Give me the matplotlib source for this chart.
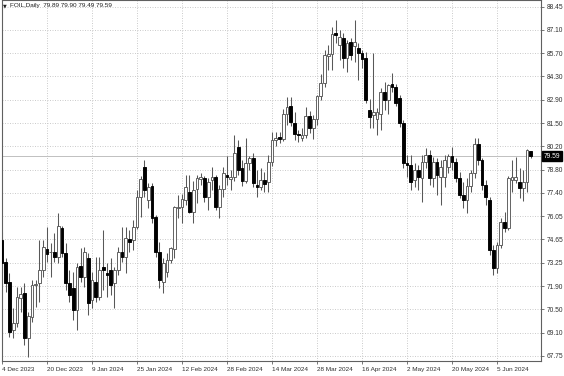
import numpy as np
import matplotlib.pyplot as plt

# daily FOIL candles, 4 Dec 2023 .. mid Jun 2024
opens = [74.62, 73.32, 72.13, 69.29, 69.71, 71.19, 71.48, 68.82, 70.06, 71.96,
         72.08, 72.85, 74.09, 73.88, 73.91, 73.62, 75.33, 73.85, 72.08, 71.78,
         70.48, 73.08, 72.43, 73.56, 71.07, 72.13, 71.25, 73.02, 72.67, 72.85,
         72.08, 72.85, 73.91, 73.62, 74.68, 74.62, 75.39, 77.17, 78.95, 76.99,
         77.82, 75.98, 73.91, 72.13, 72.73, 73.44, 74.09, 76.52, 76.58, 76.99,
         77.47, 76.28, 77.64, 78.24, 78.30, 77.17, 78.18, 78.36, 76.58, 77.64,
         78.47, 78.24, 78.36, 80.13, 78.89, 78.12, 79.18, 79.48, 77.88, 77.76,
         78.18, 78.06, 79.24, 80.55, 80.72, 80.61, 82.09, 82.56, 81.55, 80.90,
         80.66, 80.84, 81.97, 81.26, 81.79, 83.15, 83.92, 85.52, 85.64, 86.89,
         86.17, 86.59, 85.40, 86.35, 86.11, 85.99, 85.70, 85.40, 82.32, 82.03,
         81.79, 82.09, 83.39, 82.92, 83.86, 83.69, 83.03, 81.55, 79.18, 79.07,
         78.18, 78.77, 78.30, 79.24, 79.66, 78.30, 79.24, 78.36, 78.36, 78.95,
         79.60, 79.24, 78.30, 77.29, 76.99, 77.82, 78.59, 80.31, 79.36, 77.88,
         76.99, 74.03, 72.96, 74.33, 75.69, 75.33, 78.18, 78.18, 78.06, 77.70,
         78.06, 79.89]
highs = [75.10, 73.56, 72.67, 70.60, 71.84, 71.84, 72.08, 70.36, 72.25, 72.25,
         74.62, 74.62, 75.39, 74.44, 75.04, 76.22, 75.45, 74.44, 72.85, 72.73,
         73.26, 74.15, 74.21, 73.85, 72.73, 73.62, 73.62, 75.21, 73.26, 73.56,
         73.02, 74.21, 75.39, 75.39, 75.21, 75.81, 77.58, 78.41, 79.36, 78.00,
         78.00, 76.10, 74.50, 73.56, 73.85, 74.21, 76.64, 77.29, 77.35, 78.47,
         78.47, 78.12, 78.47, 78.59, 78.41, 78.30, 78.95, 78.47, 77.88, 78.95,
         79.60, 78.77, 80.84, 80.55, 79.36, 80.66, 79.60, 79.78, 78.77, 78.89,
         78.65, 79.66, 81.02, 81.02, 81.02, 82.38, 83.09, 83.09, 82.21, 81.14,
         81.26, 82.50, 82.26, 82.03, 83.21, 84.46, 85.88, 86.17, 87.24, 87.66,
         87.06, 86.89, 86.47, 86.59, 87.66, 86.29, 85.88, 85.76, 82.98, 85.70,
         82.44, 83.63, 83.98, 83.86, 84.51, 83.86, 83.21, 81.73, 79.66, 79.66,
         79.18, 79.07, 79.66, 80.07, 79.95, 79.54, 79.48, 79.36, 79.66, 79.72,
         80.13, 79.48, 78.65, 78.06, 78.30, 78.77, 80.66, 80.66, 79.48, 78.18,
         77.17, 74.33, 74.50, 75.93, 76.28, 78.41, 79.36, 79.54, 78.89, 78.77,
         80.01, 79.90]
lows = [72.67, 71.54, 68.88, 68.82, 69.47, 70.36, 68.40, 67.69, 69.77, 70.65,
        70.95, 72.43, 73.32, 72.43, 73.32, 73.26, 73.62, 71.66, 70.95, 69.88,
        69.29, 72.13, 71.84, 70.18, 70.59, 70.95, 71.07, 71.66, 71.25, 71.36,
        70.59, 72.55, 73.32, 72.67, 73.91, 74.03, 75.27, 75.98, 77.17, 76.52,
        75.63, 73.62, 71.78, 71.48, 72.43, 73.26, 73.56, 75.93, 75.63, 76.70,
        76.22, 75.63, 76.81, 77.88, 76.87, 76.40, 77.58, 76.40, 75.93, 77.17,
        77.88, 77.58, 78.12, 78.47, 77.82, 78.00, 78.77, 77.76, 77.17, 77.58,
        77.47, 77.47, 79.01, 80.19, 80.37, 80.49, 81.43, 81.38, 80.55, 80.43,
        80.49, 80.66, 80.96, 80.61, 81.43, 82.92, 83.69, 84.69, 84.69, 86.29,
        85.29, 84.81, 84.57, 85.29, 85.17, 84.10, 84.81, 82.74, 81.26, 81.26,
        80.84, 81.14, 82.32, 82.09, 83.39, 82.56, 81.32, 78.89, 78.36, 77.58,
        77.76, 77.58, 76.87, 78.89, 77.88, 77.76, 77.29, 76.70, 77.76, 78.59,
        78.77, 78.06, 77.11, 76.52, 76.22, 77.47, 78.30, 79.07, 77.58, 76.70,
        73.73, 72.55, 72.67, 74.15, 75.10, 75.21, 77.47, 78.00, 77.11, 76.93,
        77.47, 79.49]
closes = [73.26, 72.08, 69.17, 69.71, 71.25, 71.42, 68.82, 70.12, 71.96, 72.02,
          72.85, 74.21, 73.79, 73.93, 73.62, 75.45, 73.85, 72.08, 71.36, 70.48,
          73.02, 72.43, 73.91, 70.89, 72.25, 71.25, 72.85, 72.85, 72.55, 71.96,
          72.85, 73.91, 73.62, 74.74, 74.50, 75.39, 77.17, 78.24, 77.58, 77.76,
          75.93, 73.91, 72.25, 73.26, 73.44, 74.15, 76.58, 76.58, 77.05, 77.76,
          76.28, 77.58, 78.30, 78.36, 77.17, 78.06, 78.36, 76.58, 77.64, 78.59,
          78.36, 78.36, 79.78, 78.77, 78.12, 79.18, 79.48, 78.00, 77.76, 78.18,
          77.94, 79.24, 80.55, 80.66, 80.61, 82.09, 82.50, 81.61, 80.90, 80.84,
          80.84, 81.97, 81.26, 81.79, 83.15, 83.92, 85.58, 85.64, 86.83, 86.77,
          86.65, 85.40, 86.29, 85.58, 86.35, 85.70, 85.35, 82.92, 81.91, 82.21,
          82.21, 83.39, 82.92, 83.80, 83.69, 82.74, 81.55, 79.18, 79.07, 78.06,
          78.77, 78.36, 79.24, 79.66, 78.30, 79.24, 78.47, 78.95, 79.36, 79.60,
          79.24, 78.30, 77.29, 76.99, 77.82, 78.59, 80.31, 79.36, 77.88, 77.17,
          74.03, 72.96, 74.33, 75.69, 75.33, 78.30, 78.36, 78.36, 77.70, 78.06,
          79.95, 79.59]

date_labels = ['4 Dec 2023', '20 Dec 2023', '9 Jan 2024', '25 Jan 2024',
               '12 Feb 2024', '28 Feb 2024', '14 Mar 2024', '28 Mar 2024',
               '16 Apr 2024', '2 May 2024', '20 May 2024', '5 Jun 2024']
price_labels = ['67.75', '69.10', '70.50', '71.90', '73.25', '74.65', '76.05',
                '77.40', '78.80', '80.20', '81.50', '82.90', '84.30', '85.70',
                '87.10', '88.45']
symbol = 'FOIL,Daily'

o = np.array(opens)
h = np.array(highs)
l = np.array(lows)
c = np.array(closes)
x = np.arange(len(o))
up = c >= o

fig = plt.figure(figsize=(5.64, 3.76), dpi=100)
ax = fig.add_axes([1.5/564, 15/376, 539.5/564, 361/376])
font = 'Liberation Sans'

# grid
ytick_pos = 67.75 + 1.38*np.arange(len(price_labels))
xtick_pos = x[::12][:len(date_labels)]
for yy in ytick_pos:
    ax.axhline(yy, color='#c4c4c4', lw=0.6, ls=(0, (1.2, 1.8)), zorder=0)
for xx in xtick_pos[1:]:
    ax.axvline(xx, color='#c4c4c4', lw=0.6, ls=(0, (1.2, 1.8)), zorder=0)

# last price line
ax.axhline(c[-1], color='#c0c0c0', lw=0.7, zorder=1)

# candles
ax.vlines(x, l, h, color='#585858', lw=0.75, zorder=2)
body = np.abs(c - o)
ax.bar(x[up], body[up], bottom=o[up], width=0.68, color='white',
       edgecolor='#585858', linewidth=0.65, zorder=3)
ax.bar(x[~up], body[~up], bottom=c[~up], width=0.68, color='black',
       edgecolor='black', linewidth=0.65, zorder=3)

ax.set_xlim(-0.13, 143.73)
ax.set_ylim(67.45, 88.84)

for s in ax.spines.values():
    s.set_color('#606060')
    s.set_linewidth(0.8)

ax.yaxis.tick_right()
ax.set_yticks(ytick_pos)
ax.set_yticklabels(price_labels, fontsize=4.8, family=font, color='#303030')
ax.set_xticks(xtick_pos)
ax.set_xticklabels(date_labels, fontsize=4.6, family=font, color='#303030',
                   ha='left')
ax.tick_params(axis='both', length=2.5, width=0.6, color='#606060', pad=1.5)

# current price tag
ax.annotate('%.2f' % c[-1], xy=(1.0, c[-1]), xycoords=('axes fraction', 'data'),
            xytext=(2, 0), textcoords='offset points', va='center', ha='left',
            fontsize=4.8, family=font, color='white', annotation_clip=False,
            bbox=dict(boxstyle='square,pad=0.25', fc='black', ec='black'))

# header
fig.text(3/564, 1 - 6/376, '\u25bc', fontsize=3.5, va='center', ha='left',
         color='#202020')
fig.text(10/564, 1 - 6/376, '%s  %.2f %.2f %.2f %.2f' % (symbol, o[-1], h[-1], l[-1], c[-1]),
         fontsize=4.6, family=font, va='center', ha='left', color='#202020')

fig.savefig('out.png', dpi=100)
